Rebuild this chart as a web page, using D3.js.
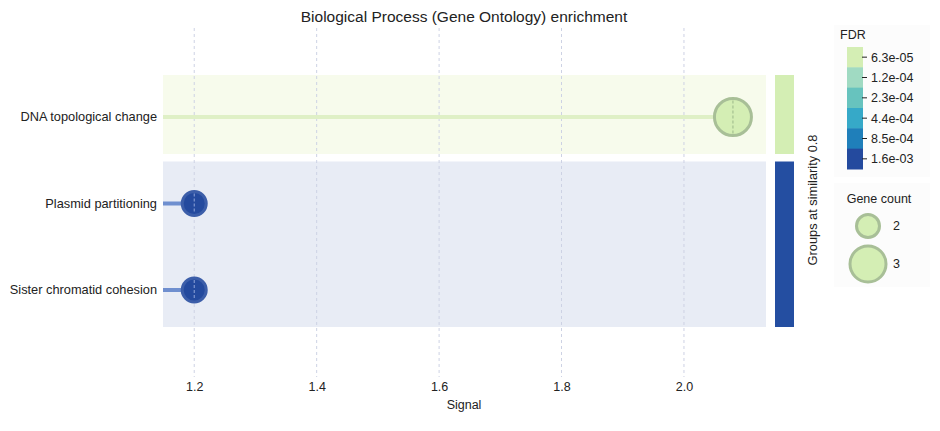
<!DOCTYPE html>
<html><head><meta charset="utf-8">
<script src="https://cdn.jsdelivr.net/npm/d3@7"></script>
<style>body{margin:0;background:#fff;}svg{font-family:"Liberation Sans",Arial,sans-serif;}</style>
</head><body><svg id="c" width="940" height="431"></svg>
<script>
const terms = ["DNA topological change","Plasmid partitioning","Sister chromatid cohesion"];
const signal = [2.08, 1.2, 1.2];
const fdr = [6.3e-05, 1.6e-03, 1.6e-03];
const geneCount = [3, 2, 2];
const group = [0, 1, 1];
const xTicks = [1.2, 1.4, 1.6, 1.8, 2.0];
const fdrLabels = ["6.3e-05","1.2e-04","2.3e-04","4.4e-04","8.5e-04","1.6e-03"];
const fdrColors = ["#d4eeb4","#a0dac2","#67c3be","#36a9c8","#1f7fba","#244a9e"];
const groupColors = ["#d4eeb4","#244ea1"];
const groupBg = ["#f7fbec","#e8ecf5"];
const lineColors = ["#dff0c6","#6f8fcf"];
const countLevels = [2, 3];

const svg = d3.select("#c");
const x = d3.scaleLinear().domain([1.149, 2.134]).range([163, 766]);
const y = d3.scalePoint().domain(terms).range([117, 290]);
const r = d3.scaleSqrt().domain([2, 3]).range([12, 18.5]);
const colorOf = v => fdrColors[fdrLabels.indexOf(d3.format(".1e")(v).replace(/e([+-])(\d)$/, "e$10$2"))];

svg.append("text").attr("x", 464).attr("y", 22).attr("text-anchor", "middle")
  .attr("font-size", 15.5).attr("fill", "#222").text("Biological Process (Gene Ontology) enrichment");

// group backgrounds
const groups = [0, 1].map(g => {
  const idx = terms.map((t, i) => i).filter(i => group[i] === g);
  return {g, y0: y(terms[idx[0]]) - 42, y1: y(terms[idx[idx.length - 1]]) + 37};
});
svg.selectAll(".bg").data(groups).join("rect")
  .attr("x", x.range()[0]).attr("width", x.range()[1] - x.range()[0])
  .attr("y", d => d.y0).attr("height", d => d.y1 - d.y0)
  .attr("fill", d => groupBg[d.g]);
svg.selectAll(".gb").data(groups).join("rect")
  .attr("x", 775).attr("width", 19)
  .attr("y", d => d.y0).attr("height", d => d.y1 - d.y0)
  .attr("fill", d => groupColors[d.g]);

// grid
svg.selectAll(".grid").data(xTicks).join("line")
  .attr("x1", d => x(d)).attr("x2", d => x(d)).attr("y1", 28).attr("y2", 377)
  .attr("stroke", "#cdd2e4").attr("stroke-width", 1).attr("stroke-dasharray", "3,3");

// lollipop lines
svg.selectAll(".stem").data(terms).join("line")
  .attr("x1", x.range()[0]).attr("x2", (d, i) => x(signal[i]))
  .attr("y1", d => y(d)).attr("y2", d => y(d))
  .attr("stroke", (d, i) => lineColors[group[i]]).attr("stroke-width", 4);

// circles
svg.selectAll(".dot").data(terms).join("circle")
  .attr("cx", (d, i) => x(signal[i])).attr("cy", d => y(d))
  .attr("r", (d, i) => r(geneCount[i]))
  .attr("fill", (d, i) => colorOf(fdr[i]))
  .attr("stroke", (d, i) => group[i] === 0 ? "#a8bf97" : "#3c5ea9")
  .attr("stroke-width", 3);
svg.selectAll(".mid").data(terms).join("line")
  .attr("x1", (d, i) => x(signal[i])).attr("x2", (d, i) => x(signal[i]))
  .attr("y1", (d, i) => y(d) - r(geneCount[i]) + 2).attr("y2", (d, i) => y(d) + r(geneCount[i]) - 2)
  .attr("stroke", (d, i) => group[i] === 0 ? "#9cb88a" : "#8fa6d8").attr("stroke-width", 1).attr("stroke-dasharray", "3,2");

// y labels
svg.selectAll(".yl").data(terms).join("text")
  .attr("x", 157).attr("y", d => y(d)).attr("dy", "0.35em").attr("text-anchor", "end")
  .attr("font-size", 12.8).attr("fill", "#222").text(d => d);

// x axis
const xa = svg.append("g").attr("transform", "translate(0,370)")
  .call(d3.axisBottom(x).tickValues(xTicks).tickFormat(d3.format(".1f")).tickSize(0).tickPadding(12));
xa.select(".domain").remove();
xa.selectAll("text").attr("font-size", 12.5).attr("fill", "#222").attr("font-family", "Liberation Sans, Arial, sans-serif");
svg.append("text").attr("x", 464).attr("y", 409).attr("text-anchor", "middle")
  .attr("font-size", 12.5).attr("fill", "#222").text("Signal");

svg.append("text").attr("transform", "translate(817,200) rotate(-90)").attr("text-anchor", "middle")
  .attr("font-size", 12.8).attr("fill", "#222").text("Groups at similarity 0.8");

// FDR legend
svg.append("rect").attr("x", 834).attr("y", 25).attr("width", 96).attr("height", 152).attr("fill", "#fcfcfc");
svg.append("text").attr("x", 840).attr("y", 39).attr("font-size", 12.5).attr("fill", "#222").text("FDR");
const ly = d3.scaleBand().domain(fdrLabels).range([47, 169]);
svg.selectAll(".sw").data(fdrLabels).join("rect")
  .attr("x", 847).attr("width", 16).attr("y", d => ly(d)).attr("height", ly.bandwidth() + 0.5)
  .attr("fill", (d, i) => fdrColors[i]);
svg.selectAll(".tk").data(fdrLabels).join("line")
  .attr("x1", 862).attr("x2", 867).attr("y1", d => ly(d) + ly.bandwidth() / 2).attr("y2", d => ly(d) + ly.bandwidth() / 2)
  .attr("stroke", "#222");
svg.selectAll(".fl").data(fdrLabels).join("text")
  .attr("x", 871).attr("y", d => ly(d) + ly.bandwidth() / 2).attr("dy", "0.35em")
  .attr("font-size", 12.5).attr("fill", "#222").text(d => d);

// Gene count legend
svg.append("rect").attr("x", 834).attr("y", 183).attr("width", 96).attr("height", 104).attr("fill", "#fcfcfc");
svg.append("text").attr("x", 879).attr("y", 203).attr("text-anchor", "middle").attr("font-size", 12.5).attr("fill", "#222").text("Gene count");
const cy = [226, 264];
svg.selectAll(".lc").data(countLevels).join("circle")
  .attr("cx", 868).attr("cy", (d, i) => cy[i]).attr("r", d => r(d) - 0.5)
  .attr("fill", "#d4eeb4").attr("stroke", "#a8bf97").attr("stroke-width", 3);
svg.selectAll(".lt").data(countLevels).join("text")
  .attr("x", 893).attr("y", (d, i) => cy[i]).attr("dy", "0.35em").attr("font-size", 12.5).attr("fill", "#222").text(d => d);
</script></body></html>
